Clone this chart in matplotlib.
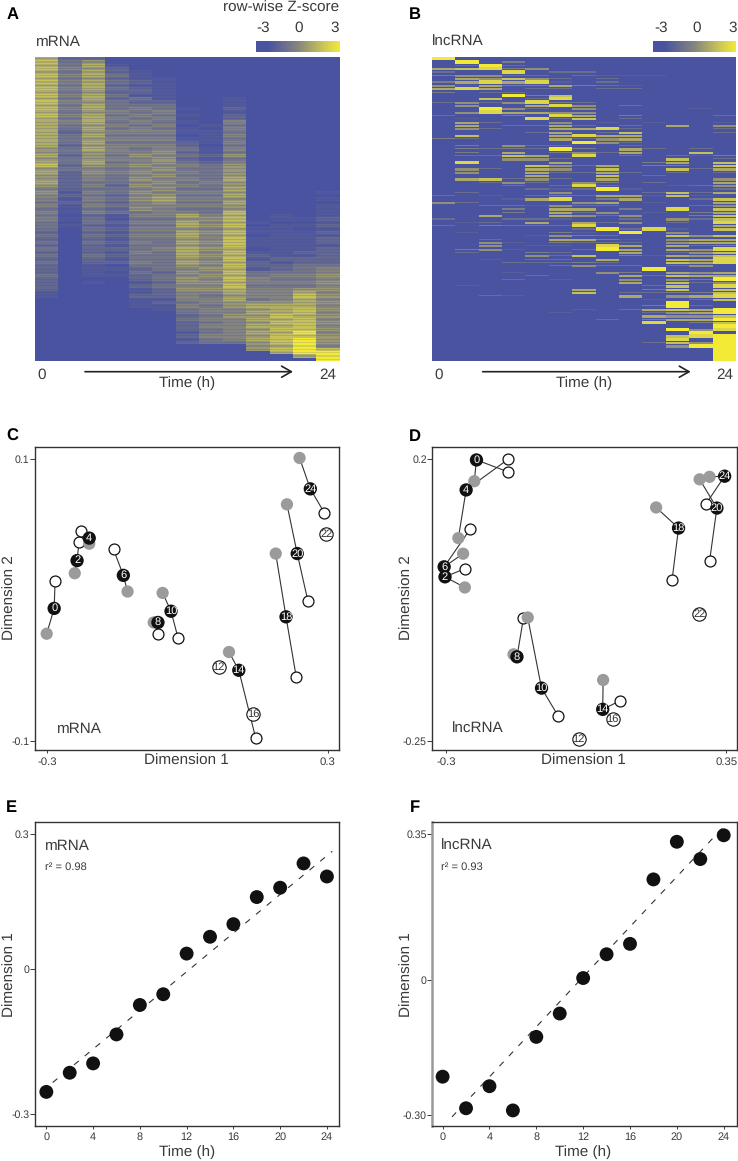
import matplotlib
matplotlib.use('Agg')
import matplotlib.pyplot as plt
import numpy as np
from matplotlib.colors import LinearSegmentedColormap

plt.rcParams['font.family'] = ['Liberation Sans', 'DejaVu Sans']
plt.rcParams['text.hinting'] = 'no_hinting'

# heatmap rows, one digit per time point, 0 = z of -3, 9 = z of +3
heat_mrna = [
    "7331000000000", "8461100000000", "7472110000000", "8563110000000", "7473210000000",
    "8574210000000", "7463220000000", "8574321000000", "7473220000000", "8574320000000",
    "7463320000000", "8574221000000", "7473421020000", "8564331020000", "7474441020000",
    "8574542030000", "7465451020000", "8574542030000", "7475451130000", "7574542150000",
    "7465451240000", "7474542150000", "7365552240000", "7474441250000", "7465552240000",
    "7474443250000", "7365553140000", "6475454250000", "6465563240000", "7364654360000",
    "6465563240000", "7474564350000", "8365655460000", "6454564460000", "7365655460001",
    "6354564460001", "6354655470001", "7344564560101", "6353655460001", "5344564471101",
    "6254655560002", "5343564471111", "5254675560002", "4343564471111", "5254555560102",
    "4243654461112", "5254455481012", "4132557571212", "5242446681223", "4143557572112",
    "4232447681223", "4143556572212", "3132447682223", "4143557571222", "3132446582223",
    "4143547682223", "3132446582222", "4033457671223", "3132547582233", "4043447673223",
    "3132446582333", "4133547673233", "3021446583344", "3122345672345", "3021436584445",
    "4122345674556", "3011346585445", "3121236675556", "3011345584445", "3110236675566",
    "2011235575575", "2100335465586", "1010225574575", "1000234566676", "1000225467775",
    "1000124556786", "1000114557785", "0000113466876", "0000114557785", "0000103456886",
    "0000103557785", "0000003456886", "0000102457795", "0000003556886", "0000002457896",
    "0000003446896", "0000000106795", "0000000006898", "0000000000799", "0000000000079",
    "0000000000009",
]
heat_lncrna = [
    "9000000000000", "0904000000000", "0393000000000", "6784500000000", "3008033000000",
    "4553303222000", "0657530300000", "4686820300000", "5264464320000", "6860330330000",
    "4033000000000", "0009470000000", "0070380000000", "3535843000000", "0500685030000",
    "0095305000020", "0586655000000", "3004086040003", "0200837030000", "0630050202002",
    "0603363030605", "0530066830003", "0000360370003", "0700068660000", "4300063560000",
    "0000009530000", "0405330030000", "0434394063030", "0406045360070", "0337608030324",
    "0005530000703", "0800060004607", "0000753604407", "0530650700736", "0500633630303",
    "0000600703000", "0673530600005", "0035305403006", "0003038300235", "0000323920003",
    "0300050003736", "3020343662720", "0002680460037", "5300005602006", "0033253300035",
    "0004066040807", "0004063502046", "0060065350047", "3003320030537", "0230606350308",
    "3043338000006", "0000003938207", "0200042090500", "0000254300757", "0030066420566",
    "0052043330566", "0050220860634", "0452003960658", "0300430060357", "0000537042657",
    "0020330600768", "0003334300768", "0000035330350", "0000000009000", "0002000540656",
    "0000300063766", "0003020050549", "0000000060735", "0200000003708", "0000006004707",
    "0000007033447", "0032000060568", "0000000002037", "0000000000900", "0000000004930",
    "0000002036769", "0000020003569", "0000000006557", "0000000304669", "0000000008047",
    "0000000000009", "0000000000958", "0000000000090", "0000000000789", "0000000000809",
    "0000000003759", "0000000000599", "0000000000009", "0000000000009", "0000000000009",
    "0000000000009",
]

# panel C, mRNA MDS
c_times = [0, 2, 4, 6, 8, 10, 14, 18, 20, 24]
c_mid_x = [-0.285, -0.236, -0.210, -0.137, -0.063, -0.035, 0.110, 0.211, 0.235, 0.263]
c_mid_y = [-0.006, 0.028, 0.044, 0.0175, -0.016, -0.008, -0.050, -0.012, 0.033, 0.079]
c_gray_x = [-0.301, -0.241, -0.210, -0.128, -0.072, -0.053, 0.089, 0.189, 0.213, 0.240]
c_gray_y = [-0.024, 0.019, 0.040, 0.006, -0.016, 0.005, -0.037, 0.033, 0.068, 0.101]
c_open_x = [-0.283, -0.232, -0.227, -0.158, -0.063, -0.020, 0.146, 0.233, 0.258, 0.293]
c_open_y = [0.0135, 0.041, 0.049, 0.036, -0.024, -0.027, -0.098, -0.055, -0.001, 0.062]
c_lone_times = [12, 16, 22]
c_lone_x = [0.067, 0.141, 0.297]
c_lone_y = [-0.048, -0.081, 0.047]

# panel D, lncRNA MDS
d_times = [0, 2, 4, 6, 8, 10, 14, 18, 20, 24]
d_mid_x = [-0.230, -0.303, -0.254, -0.305, -0.136, -0.079, 0.063, 0.239, 0.328, 0.346]
d_mid_y = [0.199, 0.012, 0.151, 0.028, -0.116, -0.166, -0.200, 0.090, 0.122, 0.173]
d_gray_x = [-0.235, -0.257, -0.272, -0.261, -0.144, -0.111, 0.064, 0.187, 0.288, 0.311]
d_gray_y = [0.165, -0.005, 0.074, 0.049, -0.112, -0.053, -0.153, 0.123, 0.168, 0.172]
d_open_x = [-0.157, -0.257, -0.157, -0.244, -0.121, -0.040, 0.104, 0.224, 0.311, 0.303]
d_open_y = [0.180, 0.025, 0.200, 0.089, -0.054, -0.211, -0.186, 0.007, 0.037, 0.129]
d_lone_times = [12, 16, 22]
d_lone_x = [0.007, 0.086, 0.287]
d_lone_y = [-0.247, -0.216, -0.047]

# panels E and F
hours = [0, 2, 4, 6, 8, 10, 12, 14, 16, 18, 20, 22, 24]
e_dim1 = [-0.252, -0.211, -0.191, -0.129, -0.066, -0.043, 0.044, 0.080, 0.107, 0.165, 0.185, 0.237, 0.209]
f_dim1 = [-0.212, -0.285, -0.234, -0.290, -0.120, -0.066, 0.016, 0.071, 0.095, 0.244, 0.331, 0.291, 0.346]
e_fit_x = [0.54, 24.46]
e_fit_y = [-0.232, 0.263]
f_fit_x = [0.8, 24.0]
f_fit_y = [-0.305, 0.366]

W, H = 738, 1161
TEXT = '#3a3a3a'
EDGE = '#333333'
fig = plt.figure(figsize=(W / 100, H / 100), dpi=100)

heat_cmap = LinearSegmentedColormap.from_list(
    'heat', [(0, '#4a53a0'), (0.14, '#4a53a0'), (0.5, '#85857f'), (0.82, '#cfca55'), (1, '#f3ea35')])


def px_axes(x0, y0, x1, y1):
    return fig.add_axes([x0 / W, 1 - y1 / H, (x1 - x0) / W, (y1 - y0) / H])


def draw_heat(rows, box, cbar_box, sparse):
    ax = px_axes(*box)
    d = np.array([[int(c) for c in r] for r in rows], dtype=float)
    # three thin lines per row, the original streaks are about 1px
    fine = np.repeat(d, 3, axis=0)
    if sparse:
        fine[0::3] = np.where(d >= 8, d, 0)
        fine[2::3] = np.where(d >= 5, d, 0)
    else:
        # mRNA is mostly muted, only the last block is full yellow
        muted = np.where(d < 9, d * 0.88, d)
        fine = np.repeat(muted, 3, axis=0)
        fine[1::3] = muted * 0.85
    ax.imshow(fine * 6 / 9 - 3, cmap=heat_cmap, vmin=-3, vmax=3, aspect='auto', interpolation='nearest')
    ax.axis('off')
    cax = px_axes(*cbar_box)
    cax.imshow(np.linspace(-3, 3, 256)[None, :], cmap=heat_cmap, vmin=-3, vmax=3, aspect='auto')
    cax.axis('off')


def style_axes(ax, xlim, ylim, xticks, xlabels, yticks, ylabels, xsize, pad):
    ax.set_xlim(*xlim)
    ax.set_ylim(*ylim)
    ax.set_xticks(xticks, xlabels)
    ax.set_yticks(yticks, ylabels)
    ax.tick_params(colors=TEXT, width=0.7)
    ax.tick_params(axis='x', labelsize=xsize, length=2, pad=pad)
    ax.tick_params(axis='y', labelsize=7.6, length=3.5, pad=0.5)
    for s in ax.spines.values():
        s.set_color(EDGE)
        s.set_linewidth(1.0)


def draw_mds(box, xlim, ylim, xticks, xlabels, yticks, ylabels, times, mx, my, gx, gy, ox, oy, lt, lx, ly):
    ax = px_axes(*box)
    style_axes(ax, xlim, ylim, xticks, xlabels, yticks, ylabels, 8.2, 3)
    for i in range(len(times)):
        ax.plot([gx[i], mx[i], ox[i]], [gy[i], my[i], oy[i]], color='#333333', lw=0.8, zorder=1)
    ax.scatter(ox, oy, s=62, facecolor='white', edgecolor='#111111', linewidth=0.9, zorder=2)
    ax.scatter(gx, gy, s=78, facecolor='#9b9b9b', edgecolor='none', zorder=3)
    ax.scatter(mx, my, s=92, facecolor='#111111', edgecolor='none', zorder=4)
    ax.scatter(lx, ly, s=92, facecolor='white', edgecolor='#111111', linewidth=0.8, zorder=5)
    for i, t in enumerate(times):
        ax.text(mx[i], my[i], str(t), color='white', fontsize=8, ha='center', va='center', zorder=6)
    for i, t in enumerate(lt):
        ax.text(lx[i], ly[i], str(t), color='#333333', fontsize=8, ha='center', va='center', zorder=6)
    return ax


def draw_line(box, xlim, ylim, yticks, ylabels, dim1, fit_x, fit_y):
    ax = px_axes(*box)
    style_axes(ax, xlim, ylim, [0, 4, 8, 12, 16, 20, 24], ['0', '4', '8', '12', '16', '20', '24'],
               yticks, ylabels, 7.8, 2)
    ax.plot(fit_x, fit_y, color='#333333', lw=0.8, linestyle=(0, (5.5, 7)), zorder=1)
    ax.scatter(hours, dim1, s=100, color='#111111', edgecolor='none', zorder=2)
    return ax


draw_heat(heat_mrna, (35, 57.3, 339.3, 360.7), (256, 41, 339.3, 52), False)
draw_heat(heat_lncrna, (432.3, 57.3, 736.3, 360.7), (653.3, 41, 736.3, 52), True)

draw_mds((35, 446.7, 339.3, 750), (-0.326, 0.325), (-0.1067, 0.109), [-0.3, 0.3], ['-0.3', '0.3'],
         [-0.1, 0.1], ['-0.1', '0.1'], c_times, c_mid_x, c_mid_y, c_gray_x, c_gray_y, c_open_x, c_open_y,
         c_lone_times, c_lone_x, c_lone_y)
draw_mds((432.3, 447, 736.7, 750.3), (-0.3325, 0.374), (-0.2655, 0.2197), [-0.3, 0.35], ['-0.3', '0.35'],
         [-0.25, 0.2], ['-0.25', '0.2'], d_times, d_mid_x, d_mid_y, d_gray_x, d_gray_y, d_open_x, d_open_y,
         d_lone_times, d_lone_x, d_lone_y)

draw_line((35, 822.3, 339.3, 1126), (-0.97, 25.06), (-0.325, 0.325), [-0.3, 0.0105, 0.3], ['-0.3', '0', '0.3'],
          e_dim1, e_fit_x, e_fit_y)
ax_f = draw_line((432.3, 822.3, 736.7, 1126), (-0.88, 25.11), (-0.326, 0.376), [-0.30, 0.011, 0.35],
                 ['-0.30', '0', '0.35'], f_dim1, f_fit_x, f_fit_y)
ax_f.spines['left'].set_color('#999999')
ax_f.spines['left'].set_linewidth(1.8)

# everything placed by pixel goes on a see-through page axes
page = fig.add_axes([0, 0, 1, 1], facecolor='none')
page.set_xlim(0, W)
page.set_ylim(H, 0)
page.axis('off')


def put(x, y, s, size=11, **kw):
    kw.setdefault('ha', 'center')
    kw.setdefault('va', 'center')
    kw.setdefault('color', TEXT)
    page.text(x, y, s, fontsize=size, **kw)


for x, y, s in [(12.3, 15, 'A'), (414.7, 15, 'B'), (12.3, 436.7, 'C'),
                (414.7, 436.7, 'D'), (11.7, 807.3, 'E'), (414.5, 807.3, 'F')]:
    put(x, y, s, size=12, fontweight='bold', color='black')

put(338.7, 7.5, 'row-wise Z-score', ha='right')
for x, s in [(262.7, '-3'), (298.3, '0'), (334.7, '3'), (660.7, '-3'), (696.3, '0'), (732.3, '3')]:
    put(x, 28, s)
put(35.7, 41.7, 'mRNA', ha='left')
put(432.3, 41.7, 'lncRNA', ha='left')

for left, right, x0, x1, tx in [(41.7, 327.7, 85, 293, 187), (439, 725, 482.7, 690.7, 584)]:
    put(left, 375, '0')
    put(right, 375, '24')
    put(tx, 383, 'Time (h)')
    page.annotate('', xy=(x1, 371.7), xytext=(x0, 371.7),
                  arrowprops=dict(arrowstyle='->,head_length=0.7,head_width=0.4', color='#222222', lw=1.2,
                                  shrinkA=0, shrinkB=0))

put(186.7, 761, 'Dimension 1')
put(583.5, 761, 'Dimension 1')
put(9.5, 598, 'Dimension 2', rotation=90)
put(407, 598, 'Dimension 2', rotation=90)
put(57.3, 729.3, 'mRNA', ha='left')
put(451.7, 729.3, 'lncRNA', ha='left')

put(9.5, 975, 'Dimension 1', rotation=90)
put(407, 975, 'Dimension 1', rotation=90)
put(187.3, 1151.7, 'Time (h)')
put(583.3, 1151.7, 'Time (h)')
put(45, 846, 'mRNA', ha='left')
put(441.3, 846, 'lncRNA', ha='left')
put(45, 867.3, 'r² = 0.98', size=8, ha='left')
put(441.3, 867.3, 'r² = 0.93', size=8, ha='left')

fig.savefig('out.png', dpi=100)
